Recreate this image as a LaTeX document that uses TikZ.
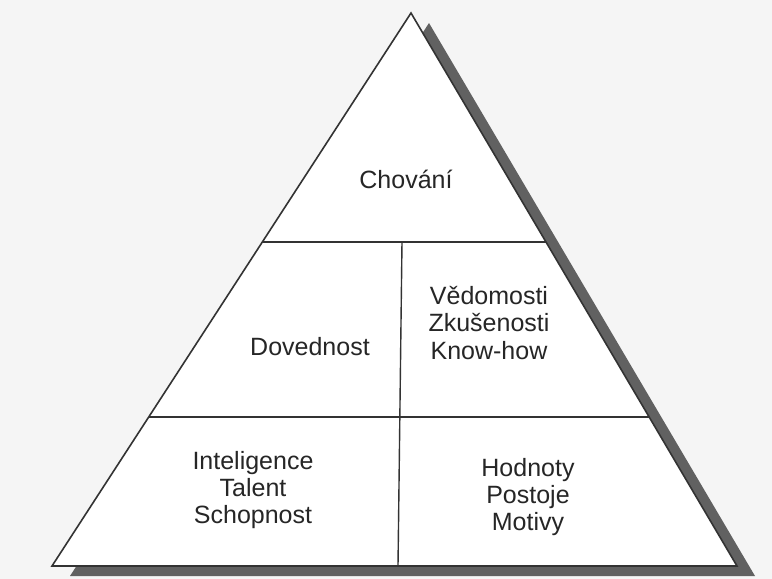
\documentclass[tikz,border=0pt]{standalone}
\usepackage{fontspec}
\setmainfont{Liberation Sans}
\usetikzlibrary{positioning,calc}

\begin{document}
\begin{tikzpicture}[x=0.5pt, y=-0.5pt, every node/.style={font=\fontsize{12.5}{13.6}\selectfont, align=center, text=black!85}]
    % page and picture size
    \fill[black!4] (0,0) rectangle (772,579);
    \useasboundingbox (0,0) rectangle (772,579);

    % corners of the pyramid
    \coordinate (top) at (411,13);
    \coordinate (bl) at (52,566);
    \coordinate (br) at (737,566);

    % shadow behind the pyramid
    \fill[black!62] ([shift={(18,10)}]top) -- ([shift={(18,10)}]bl) -- ([shift={(18,10)}]br) -- cycle;

    % pyramid
    \draw[fill=white, draw=black!80, line width=0.8pt] (top) -- (bl) -- (br) -- cycle;

    % levels
    \coordinate (l1) at ($(top)!0.414!(bl)$);
    \coordinate (r1) at ($(top)!0.414!(br)$);
    \coordinate (l2) at ($(top)!0.7306!(bl)$);
    \coordinate (r2) at ($(top)!0.7306!(br)$);
    \coordinate (m1) at (402,242);
    \coordinate (m2) at (398,566);
    \draw[draw=black!80, line width=0.7pt] (l1) -- (r1);
    \draw[draw=black!80, line width=0.7pt] (l2) -- (r2);
    \draw[draw=black!80, line width=0.7pt] (m1) -- (m2);

    % labels
    \node (behav) at (406,179) {Chování};
    \node (skill) at (310,347) {Dovednost};
    \node (know) at (489,323) {Vědomosti\\Zkušenosti\\Know-how};
    \node (talent) at (253,490) {Inteligence\\Talent\\Schopnost};
    \node (values) at (528,497) {Hodnoty\\Postoje\\Motivy};
\end{tikzpicture}
\end{document}
